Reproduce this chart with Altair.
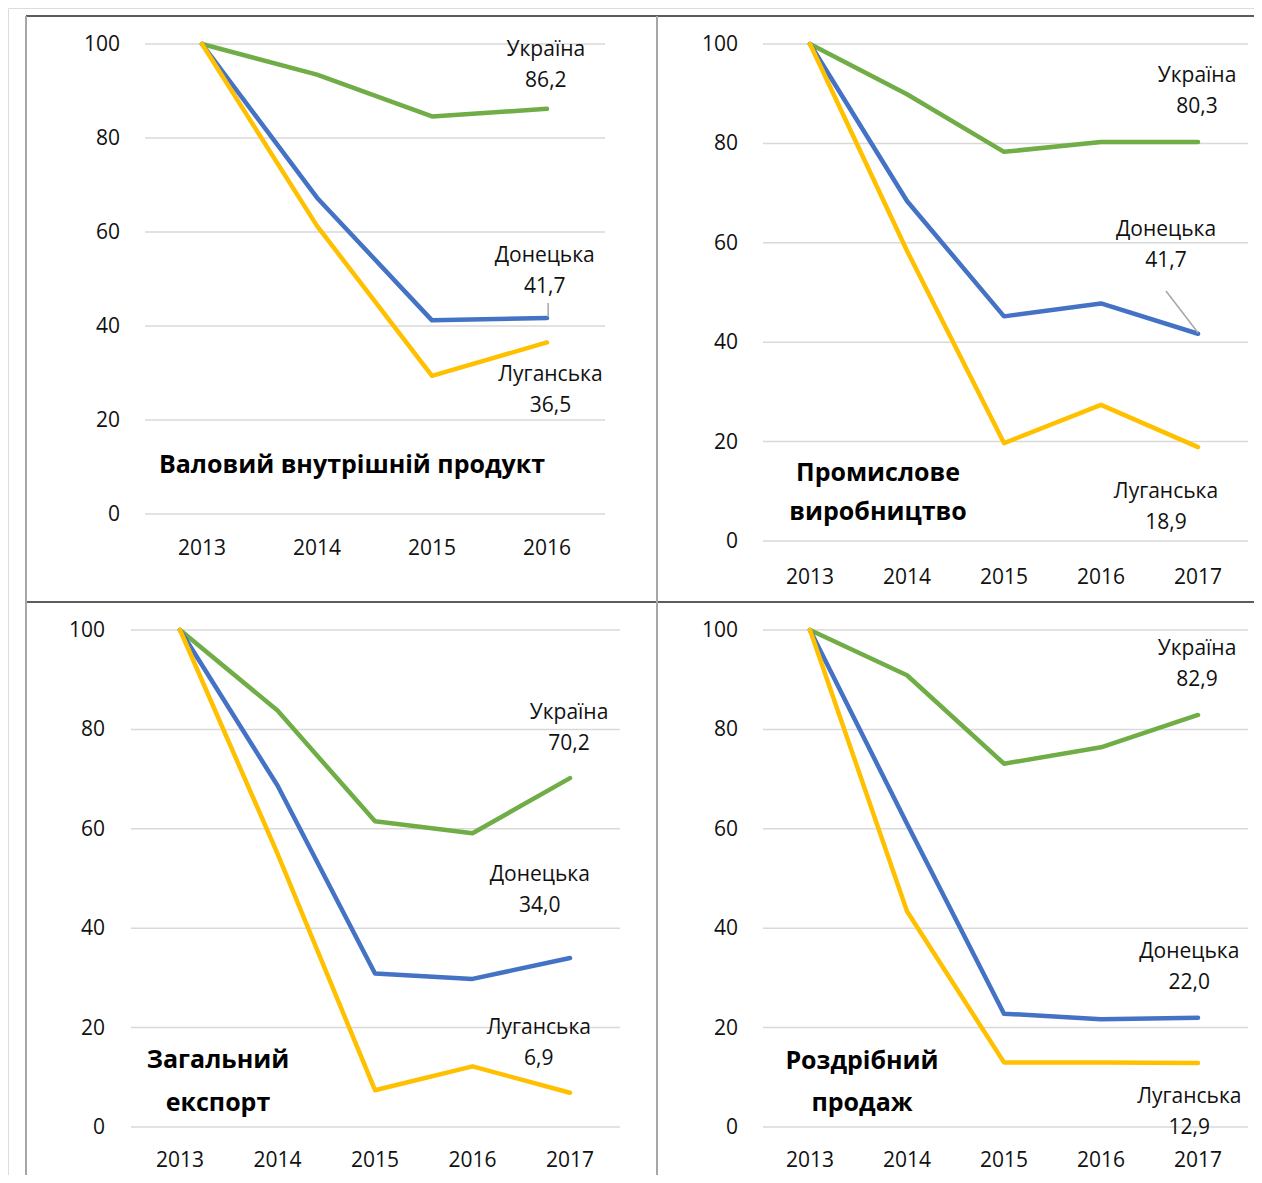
import altair as alt
import pandas as pd

FONT = "Open Sans"
series_names = ["Україна", "Донецька", "Луганська"]
series_colors = ["#70AD47", "#4472C4", "#FFC000"]
tick_values = [0, 20, 40, 60, 80, 100]

# --- Валовий внутрішній продукт ---
gdp_years = [2013, 2014, 2015, 2016]
gdp_ukr = [100, 93.5, 84.6, 86.2]
gdp_don = [100, 67.3, 41.2, 41.7]
gdp_lug = [100, 61.3, 29.4, 36.5]
gdp_label_x = [2015.99, 2015.98, 2016.03]
gdp_label_y = [95.4, 51.7, 26.2]
gdp_leader = [(2016.01, 44.9, 2016.01, 41.9)]

# --- Промислове виробництво ---
ind_years = [2013, 2014, 2015, 2016, 2017]
ind_ukr = [100, 89.9, 78.3, 80.3, 80.3]
ind_don = [100, 68.4, 45.2, 47.8, 41.7]
ind_lug = [100, 58.4, 19.7, 27.4, 18.9]
ind_label_x = [2016.99, 2016.67, 2016.67]
ind_label_y = [90.4, 59.4, 6.7]
ind_leader = [(2016.67, 50.3, 2017.0, 41.9)]

# --- Загальний експорт ---
exp_years = [2013, 2014, 2015, 2016, 2017]
exp_ukr = [100, 83.8, 61.5, 59.1, 70.2]
exp_don = [100, 68.7, 30.9, 29.8, 34.0]
exp_lug = [100, 55.0, 7.4, 12.2, 6.9]
exp_label_x = [2016.99, 2016.69, 2016.68]
exp_label_y = [80.2, 47.5, 16.8]
exp_leader = []

# --- Роздрібний продаж ---
ret_years = [2013, 2014, 2015, 2016, 2017]
ret_ukr = [100, 90.9, 73.1, 76.4, 82.9]
ret_don = [100, 61.0, 22.8, 21.7, 22.0]
ret_lug = [100, 43.4, 13.0, 13.0, 12.9]
ret_label_x = [2016.99, 2016.91, 2016.91]
ret_label_y = [93.0, 32.0, 3.0]
ret_leader = []

LABEL_LH = 31


def fmt(v):
    return f"{v:.1f}".replace(".", ",")


def panel(years, series, label_x, label_y, leaders, title, frame):
    xs = alt.Scale(domain=[years[0], years[-1]], range=frame["xr"], nice=False, zero=False)
    ys = alt.Scale(domain=[0, 100], range=frame["yr"], nice=False, zero=False)
    ticks = pd.DataFrame({"tick": tick_values, "tl": [str(t) for t in tick_values]})
    grid = alt.Chart(ticks).mark_rule(color="#D9D9D9", strokeWidth=1.5).encode(
        y=alt.Y("tick:Q", scale=ys, axis=None),
        x=alt.value(frame["gx"][0]), x2=alt.value(frame["gx"][1]))
    ylab = alt.Chart(ticks).mark_text(align="right", baseline="middle", font=FONT,
                                      fontSize=21, dy=1, color="#111111").encode(
        y=alt.Y("tick:Q", scale=ys, axis=None),
        x=alt.value(frame["ylx"]), text="tl:N")
    yrs = pd.DataFrame({"year": years, "yl": [str(y) for y in years]})
    xlab = alt.Chart(yrs).mark_text(align="center", baseline="middle", font=FONT,
                                    fontSize=21, color="#111111").encode(
        x=alt.X("year:Q", scale=xs, axis=None),
        y=alt.value(frame["xly"]), text="yl:N")
    layers = [grid, ylab, xlab]
    for name, col, vals in zip(series_names, series_colors, series):
        df = pd.DataFrame({"year": years, "value": vals})
        layers.append(alt.Chart(df).mark_line(color=col, strokeWidth=4.5,
                                              strokeCap="round", strokeJoin="round").encode(
            x=alt.X("year:Q", scale=xs, axis=None),
            y=alt.Y("value:Q", scale=ys, axis=None)))
    if leaders:
        ld = pd.DataFrame(leaders, columns=["x1", "y1", "x2", "y2"])
        layers.append(alt.Chart(ld).mark_rule(color="#A6A6A6", strokeWidth=1.5).encode(
            x=alt.X("x1:Q", scale=xs, axis=None), y=alt.Y("y1:Q", scale=ys, axis=None),
            x2="x2:Q", y2="y2:Q"))
    labels = pd.DataFrame({
        "lx": label_x, "ly": label_y,
        "txt": [f"{n}\n{fmt(s[-1])}" for n, s in zip(series_names, series)]})
    layers.append(alt.Chart(labels).mark_text(align="center", baseline="middle", font=FONT,
                                              fontSize=21, lineBreak="\n", lineHeight=LABEL_LH,
                                              dy=-LABEL_LH / 2, color="#111111").encode(
        x=alt.X("lx:Q", scale=xs, axis=None), y=alt.Y("ly:Q", scale=ys, axis=None),
        text="txt:N"))
    nlines = title.count("\n") + 1
    tdf = pd.DataFrame({"t": [title]})
    layers.append(alt.Chart(tdf).mark_text(align="center", baseline="middle", font=FONT,
                                           fontSize=25, fontWeight="bold", lineBreak="\n",
                                           lineHeight=frame["tlh"],
                                           dy=-(nlines - 1) * frame["tlh"] / 2,
                                           color="#000000").encode(
        x=alt.value(frame["tx"]), y=alt.value(frame["ty"]), text="t:N"))
    return alt.layer(*layers)


frames = {
    "gdp": dict(xr=[194, 539], yr=[506, 36], gx=[137, 597], ylx=112, xly=541, tx=344, ty=457, tlh=41),
    "ind": dict(xr=[802, 1190], yr=[533, 36], gx=[755, 1240], ylx=730, xly=570, tx=870, ty=484, tlh=39),
    "exp": dict(xr=[172, 562], yr=[1119, 622], gx=[123, 612], ylx=97, xly=1153, tx=210, ty=1073, tlh=43),
    "ret": dict(xr=[802, 1190], yr=[1119, 622], gx=[755, 1240], ylx=730, xly=1153, tx=854, ty=1074, tlh=42),
}

p1 = panel(gdp_years, [gdp_ukr, gdp_don, gdp_lug], gdp_label_x, gdp_label_y, gdp_leader,
           "Валовий внутрішній продукт", frames["gdp"])
p2 = panel(ind_years, [ind_ukr, ind_don, ind_lug], ind_label_x, ind_label_y, ind_leader,
           "Промислове\nвиробництво", frames["ind"])
p3 = panel(exp_years, [exp_ukr, exp_don, exp_lug], exp_label_x, exp_label_y, exp_leader,
           "Загальний\nекспорт", frames["exp"])
p4 = panel(ret_years, [ret_ukr, ret_don, ret_lug], ret_label_x, ret_label_y, ret_leader,
           "Роздрібний\nпродаж", frames["ret"])

one = pd.DataFrame({"k": [0]})
hlines = alt.Chart(one).mark_rule(color="#262626", strokeWidth=1.5)
vlines = alt.Chart(one).mark_rule(color="#A6A6A6", strokeWidth=2)
borders = [
    hlines.encode(x=alt.value(18), x2=alt.value(1246), y=alt.value(8)),
    hlines.encode(x=alt.value(18), x2=alt.value(1246), y=alt.value(594)),
    vlines.encode(x=alt.value(18), y=alt.value(8), y2=alt.value(1167)),
    vlines.encode(x=alt.value(649), y=alt.value(8), y2=alt.value(1167)),
]

chart = alt.layer(*borders, p1, p2, p3, p4).resolve_scale(
    x="independent", y="independent"
).properties(
    width=1246, height=1167, padding=0,
    autosize=alt.AutoSizeParams(type="none"),
).configure_view(stroke=None).configure(background="white")

chart.save("out.html", embed_options={"renderer": "svg", "actions": False})
